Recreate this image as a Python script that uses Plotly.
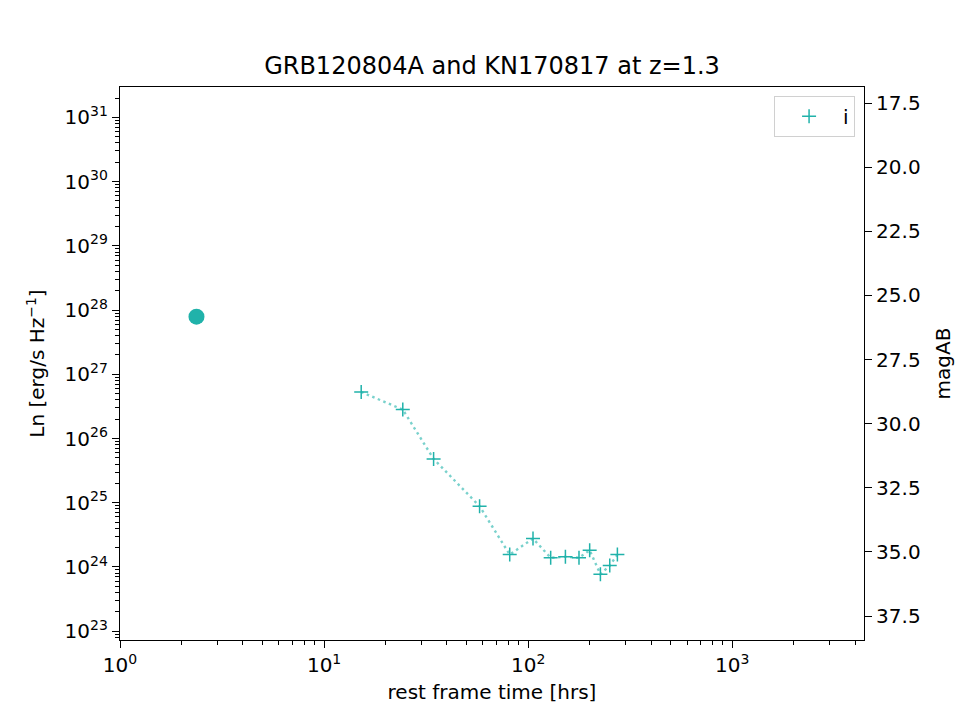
import numpy as np
import plotly.graph_objects as go

# GRB120804A afterglow point
grb_t = [2.37]
grb_L = [7.9e27]

# KN170817 i-band scaled to z=1.3
kn_t = [15.2, 24.3, 34.4, 57.8, 81.2, 105.6, 128.9, 152.2, 177.4, 200.1, 225.9, 251.0, 273.6]
kn_L = [5.3e26, 2.82e26, 4.82e25, 8.83e24, 1.56e24, 2.77e24, 1.39e24, 1.44e24, 1.39e24,
        1.82e24, 7.7e23, 1.05e24, 1.56e24]

y_exps = list(range(23, 32))
x_exps = [0, 1, 2, 3]
mag_ticks = [17.5, 20.0, 22.5, 25.0, 27.5, 30.0, 32.5, 35.0, 37.5]

col = "#20B2AA"
FONT = "DejaVu Sans"
fs = 20

fig = go.Figure()
fig.add_trace(go.Scatter(x=grb_t, y=grb_L, mode="markers",
                         marker=dict(color=col, size=16, line=dict(width=0)),
                         showlegend=False))
fig.add_trace(go.Scatter(x=kn_t, y=kn_L, mode="lines",
                         line=dict(color="rgba(32,178,170,0.6)", width=2.4, dash="2.5px,3.5px"),
                         showlegend=False))
fig.add_trace(go.Scatter(x=kn_t, y=kn_L, mode="markers", name="i",
                         marker=dict(symbol="cross-thin", size=10,
                                     line=dict(width=1.5, color=col), color=col)))
fig.add_trace(go.Scatter(x=[None], y=[None], yaxis="y2", showlegend=False, hoverinfo="skip"))

minor_x = [float(m) * 10.0 ** e for e in range(0, 4) for m in range(2, 10)]
minor_y = [float(m) * 10.0 ** e for e in range(22, 32) for m in range(2, 10)]

axis_common = dict(showline=True, linecolor="black", linewidth=1.2, ticks="outside",
                   ticklen=7, tickwidth=1.2, tickcolor="black", showgrid=False, zeroline=False,
                   automargin=False,
                   tickfont=dict(family=FONT, size=fs, color="black"))

fig.update_layout(
    width=960, height=720,
    margin=dict(l=120, r=96, t=87, b=80),
    paper_bgcolor="white", plot_bgcolor="white",
    font=dict(family=FONT, size=fs, color="black"),
    title=dict(text="GRB120804A and KN170817 at z=1.3", x=0.5, xref="paper",
               y=1 - 66 / 720, yref="container", yanchor="middle",
               font=dict(family=FONT, size=24, color="black")),
    xaxis=dict(type="log", range=[0, np.log10(4420)], mirror=True,
               tickvals=[10.0 ** e for e in x_exps],
               ticktext=[f"10<sup>{e}</sup>" for e in x_exps],
               minor=dict(tickvals=minor_x, ticks="outside", ticklen=3.5, tickwidth=1, tickcolor="black"),
               title=dict(text="rest frame time [hrs]", standoff=8,
                          font=dict(family=FONT, size=fs)),
               **axis_common),
    yaxis=dict(type="log", range=[22.863, 31.473],
               tickvals=[10.0 ** e for e in y_exps],
               ticktext=[f"10<sup>{e}</sup>" for e in y_exps],
               minor=dict(tickvals=minor_y, ticks="outside", ticklen=3.5, tickwidth=1, tickcolor="black"),
               title=dict(text="Ln [erg/s Hz<sup>−1</sup>]", standoff=14,
                          font=dict(family=FONT, size=fs)),
               **axis_common),
    yaxis2=dict(overlaying="y", side="right", range=[38.435, 16.876],
                tickvals=mag_ticks, ticktext=[f"{v:.1f}" for v in mag_ticks],
                title=dict(text="magAB", standoff=16, font=dict(family=FONT, size=fs)),
                **axis_common),
    legend=dict(x=0.988, y=0.984, xanchor="right", yanchor="top", itemwidth=58,
                bgcolor="rgba(255,255,255,0.8)", bordercolor="#d0d0d0", borderwidth=1,
                font=dict(family=FONT, size=fs)),
)

fig.write_html("out.html")
